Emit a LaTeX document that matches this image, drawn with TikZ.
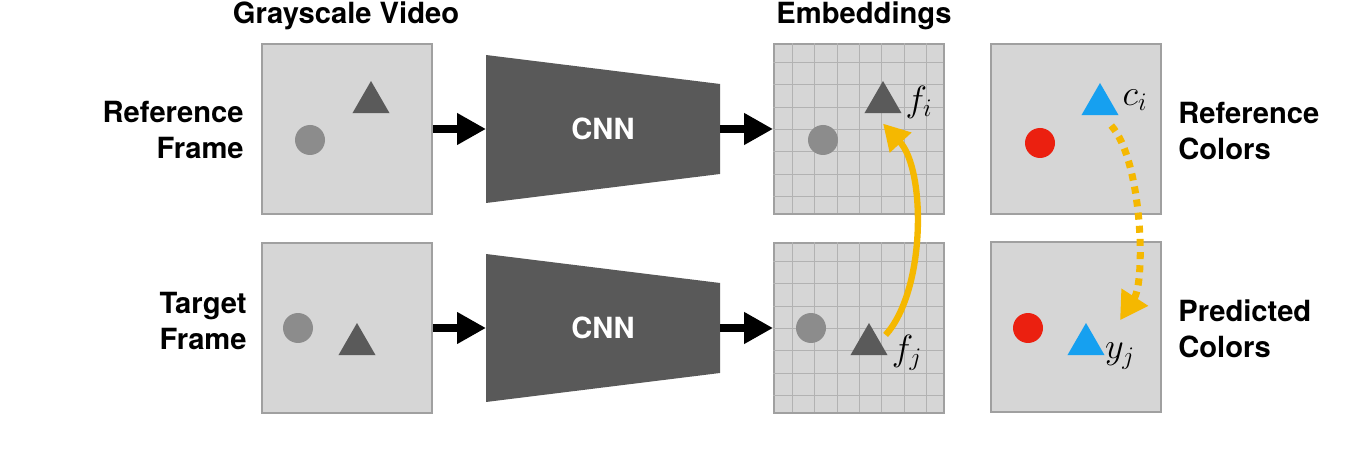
\documentclass[tikz,border=0pt]{standalone}
\usepackage{fontspec}
\setsansfont{TeX Gyre Heros}
\usetikzlibrary{shapes.geometric, arrows.meta, calc, positioning}
\definecolor{framefill}{RGB}{214,214,214}
\definecolor{frameedge}{RGB}{160,160,160}
\definecolor{gridgray}{RGB}{178,178,178}
\definecolor{cnngray}{RGB}{89,89,89}
\definecolor{blobgray}{RGB}{140,140,140}
\definecolor{trigray}{RGB}{90,90,90}
\definecolor{colred}{RGB}{235,32,16}
\definecolor{colblue}{RGB}{22,160,240}
\definecolor{matchyellow}{RGB}{245,184,0}

\begin{document}
\begin{tikzpicture}[x=0.02cm, y=-0.02cm,
  frame/.style={draw=frameedge, fill=framefill, line width=1.1pt,
                minimum size=3.4cm, inner sep=0pt},
  blob/.style={circle, minimum size=0.6cm, inner sep=0pt},
  tri/.style={regular polygon, regular polygon sides=3, minimum size=0.86cm, inner sep=0pt},
  lbl/.style={font=\sffamily\bfseries\fontsize{16.6}{20.8}\selectfont, inner sep=0pt},
  mlbl/.style={font=\fontsize{21}{24}\selectfont, inner sep=0pt},
  feed/.style={-{Triangle[length=0.58cm, width=0.6cm]}, line width=5pt},
  gridline/.style={draw=gridgray, line width=0.6pt},
]
\useasboundingbox (0,0) rectangle (1372,455);

% Headings and row labels
\node[lbl] (hgray) at (346,16) {Grayscale Video};
\node[lbl] (hemb) at (864,16) {Embeddings};
\node[lbl, anchor=east, align=right] (lref) at (244,130) {Reference\\Frame};
\node[lbl, anchor=east, align=right] (ltgt) at (247,321) {Target\\Frame};
\node[lbl, anchor=west, align=left] (lrefc) at (1178,131) {Reference\\Colors};
\node[lbl, anchor=west, align=left] (lpred) at (1178,329) {Predicted\\Colors};

% Frames
\node[frame] (fr1) at (347,129) {};
\node[frame] (fr2) at (347,328) {};
\node[frame] (e1) at (859,129) {};
\node[frame] (e2) at (859,328) {};
\node[frame] (c1) at (1076,129) {};
\node[frame] (c2) at (1076,327) {};

% Embedding grids
\foreach \k in {0,...,6} {
  \draw[gridline] ($(e1.north west)+({19.3+22.4*\k},0)$) -- ++(0,170);
  \draw[gridline] ($(e1.north west)+(0,{19.3+22.4*\k})$) -- ++(170,0);
  \draw[gridline] ($(e2.north west)+({19.3+22.4*\k},0)$) -- ++(0,170);
  \draw[gridline] ($(e2.north west)+(0,{19.3+22.4*\k})$) -- ++(170,0);
}

% Objects
\node[blob, fill=blobgray] (o1) at (310,140) {};
\node[tri, fill=trigray] (t1) at (371,102.5) {};
\node[blob, fill=blobgray] (o2) at (298,328) {};
\node[tri, fill=trigray] (t2) at (357,344.5) {};
\node[blob, fill=blobgray] (eo1) at (823,140) {};
\node[tri, fill=trigray] (ti) at (883,102.5) {};
\node[blob, fill=blobgray] (eo2) at (811,328) {};
\node[tri, fill=trigray] (tj) at (869,344.5) {};
\node[blob, fill=colred] (r1) at (1040,143) {};
\node[tri, fill=colblue] (ci) at (1100,104.5) {};
\node[blob, fill=colred] (r2) at (1028,328) {};
\node[tri, fill=colblue] (yj) at (1086,344.5) {};

\node[mlbl] (lfi) at (919,102) {$f_i$};
\node[mlbl] (lfj) at (907,353) {$f_j$};
\node[mlbl] (lci) at (1135,100) {$c_i$};
\node[mlbl] (lyj) at (1120,356) {$y_j$};

% CNNs
\fill[cnngray] (486,55) -- (720,84) -- (720,174) -- (486,203) -- cycle;
\fill[cnngray] (486,254) -- (720,283) -- (720,373) -- (486,402) -- cycle;
\node[lbl, text=white] (cnn1) at (603,129) {CNN};
\node[lbl, text=white] (cnn2) at (603,328) {CNN};
\coordinate (cnn1in) at (486,129);
\coordinate (cnn1out) at (720,129);
\coordinate (cnn2in) at (486,328);
\coordinate (cnn2out) at (720,328);

\draw[feed] (fr1.east) -- (cnn1in);
\draw[feed] (cnn1out) -- (e1.west);
\draw[feed] (fr2.east) -- (cnn2in);
\draw[feed] (cnn2out) -- (e2.west);

% Matching and color transfer
\draw[matchyellow, line width=3.6pt, -{Triangle[length=0.52cm, width=0.56cm]}]
  ([shift={(7,-4)}]tj.side 3) .. controls (926,290) and (926,170) .. ([yshift=-0.2cm]ti.south);
\draw[matchyellow, line width=4pt, dash pattern=on 4pt off 3.5pt,
      -{Triangle[length=0.55cm, width=0.6cm]}]
  ([shift={(-8,10)}]ci.corner 3) .. controls (1142,160) and (1146,280) .. ([shift={(34,-2)}]yj.corner 1);
\end{tikzpicture}
\end{document}
